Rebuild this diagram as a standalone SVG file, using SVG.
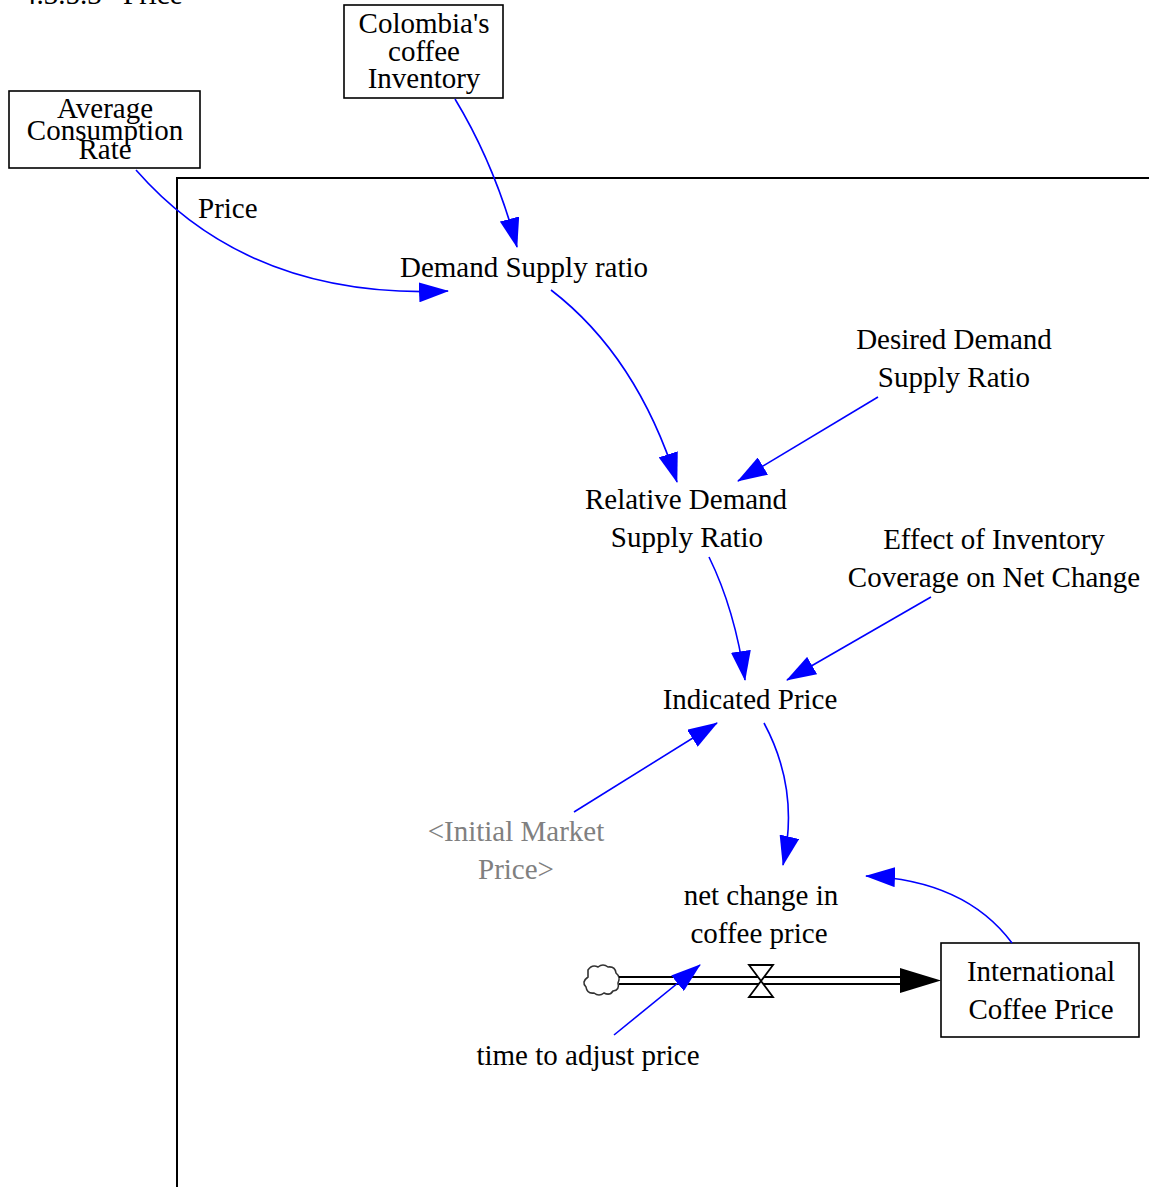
<svg xmlns="http://www.w3.org/2000/svg" width="1149" height="1187" viewBox="0 0 1149 1187" font-family="'Liberation Serif', Tinos, 'Times New Roman', 'DejaVu Serif', serif">
  <style>
    text { font-family: "Liberation Serif", Tinos, "Times New Roman", "DejaVu Serif", serif; font-size: 29px; fill: #000; }
    .c { text-anchor: middle; }
    .shadow { fill: #808080; }
    .box { fill: #fff; stroke: #000; stroke-width: 1.6; }
    .link { fill: none; stroke: #0000ff; stroke-width: 1.6; marker-end: url(#arrow); }
    .pipe { stroke: #000; stroke-width: 2; }
  </style>
  <defs>
    <marker id="arrow" viewBox="0 0 30 20" refX="29" refY="10" markerWidth="30" markerHeight="20" markerUnits="userSpaceOnUse" orient="auto">
      <path d="M0,0 L30,10 L0,20 Z" fill="#0000ff"/>
    </marker>
  </defs>

  <rect width="1149" height="1187" fill="#fff"/>

  <!-- section heading, clipped at the top edge -->
  <text x="22" y="4">4.3.5.3<tspan x="123">Price</tspan></text>

  <!-- view boundary -->
  <g id="price-sector">
    <path d="M1149,178 L177,178 L177,1187" fill="none" stroke="#000" stroke-width="2"/>
    <text x="198" y="218">Price</text>
  </g>

  <g id="colombia-inventory">
    <rect class="box" x="344" y="5" width="159" height="93"/>
    <text class="c" x="424" y="33">Colombia's</text>
    <text class="c" x="424" y="61">coffee</text>
    <text class="c" x="424" y="88">Inventory</text>
  </g>

  <g id="average-consumption-rate">
    <rect class="box" x="9" y="91" width="191" height="77"/>
    <text class="c" x="105" y="118">Average</text>
    <text class="c" x="105" y="140">Consumption</text>
    <text class="c" x="105" y="159">Rate</text>
  </g>

  <g id="demand-supply-ratio">
    <text class="c" x="524" y="277">Demand Supply ratio</text>
  </g>

  <g id="desired-demand-supply-ratio">
    <text class="c" x="954" y="349">Desired Demand</text>
    <text class="c" x="954" y="387">Supply Ratio</text>
  </g>

  <g id="relative-demand-supply-ratio">
    <text class="c" x="686" y="509">Relative Demand</text>
    <text class="c" x="687" y="547">Supply Ratio</text>
  </g>

  <g id="effect-of-inventory-coverage">
    <text class="c" x="994" y="549">Effect of Inventory</text>
    <text class="c" x="994" y="587">Coverage on Net Change</text>
  </g>

  <g id="indicated-price">
    <text class="c" x="750" y="709">Indicated Price</text>
  </g>

  <g id="initial-market-price">
    <text class="c shadow" x="516" y="841">&lt;Initial Market</text>
    <text class="c shadow" x="516" y="879">Price&gt;</text>
  </g>

  <g id="net-change-in-coffee-price">
    <text class="c" x="761" y="905">net change in</text>
    <text class="c" x="759" y="943">coffee price</text>
  </g>

  <g id="international-coffee-price">
    <rect class="box" x="941" y="943" width="198" height="94"/>
    <text class="c" x="1041" y="981">International</text>
    <text class="c" x="1041" y="1019">Coffee Price</text>
  </g>

  <g id="time-to-adjust-price">
    <text class="c" x="588" y="1065">time to adjust price</text>
  </g>

  <!-- rate flow: source cloud, pipe, valve, arrow into the stock -->
  <g id="price-flow">
    <path d="M588,970 q4,-6 10,-3 q5,-4 10,0 q7,-1 8,6 q5,4 2,10 q2,7 -5,8 q-3,5 -9,2 q-5,4 -10,0 q-7,1 -8,-6 q-5,-5 2,-10 Z" fill="#fff" stroke="#333" stroke-width="1.6"/>
    <line class="pipe" x1="619" y1="977" x2="902" y2="977"/>
    <line class="pipe" x1="619" y1="984" x2="902" y2="984"/>
    <path d="M900,968 L941,980.5 L900,993 Z" fill="#000"/>
    <path d="M749,965 L773,965 L749,997 L773,997 Z" fill="#fff" stroke="#000" stroke-width="1.8" stroke-linejoin="miter"/>
  </g>

  <!-- causal links -->
  <g id="connectors">
    <path class="link" d="M136,170 Q250,300 448,291"/>
    <path class="link" d="M455,99 Q495,165 517,247"/>
    <path class="link" d="M551,290 Q637,356 677,482"/>
    <path class="link" d="M878,397 L738,481"/>
    <path class="link" d="M709,557 Q735,610 745,680"/>
    <path class="link" d="M931,597 L787,680"/>
    <path class="link" d="M574,812 L717,723"/>
    <path class="link" d="M764,723 Q800,790 783,865"/>
    <path class="link" d="M1012,943 Q965,880 866,876"/>
    <path class="link" d="M614,1035 L700,965"/>
  </g>
</svg>
